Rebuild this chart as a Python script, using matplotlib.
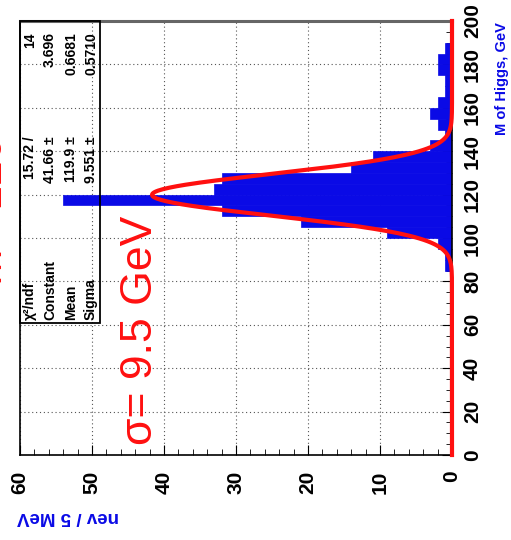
import numpy as np
import matplotlib
matplotlib.use('Agg')
import matplotlib.pyplot as plt
from matplotlib.patches import Rectangle

plt.rcParams['font.family'] = ['Liberation Sans', 'DejaVu Sans']

# ── data ────────────────────────────────────────────
mass_lo = [85, 90, 95, 100, 105, 110, 115, 120, 125, 130, 135,
           140, 145, 150, 155, 160, 165, 170, 175, 180, 185]
counts  = [1, 1, 2, 9, 21, 32, 54, 33, 32, 14, 11,
           3, 1, 2, 3, 2, 1, 1, 2, 2, 1]
bin_w   = 5

fit_const, fit_mean, fit_sigma = 41.66, 119.9, 9.551

stat_labels = ["χ²/ndf", "Constant", "Mean", "Sigma"]
stat_values = ["15.72 /", "41.66 ±", "119.9 ±", "9.551 ±"]
stat_errors = ["14", "3.696", "0.6681", "0.5710"]

nev_ticks  = [0, 10, 20, 30, 40, 50, 60]
mass_ticks = [0, 20, 40, 60, 80, 100, 120, 140, 160, 180, 200]

W, H = 511, 540
BLUE = '#0a0ae6'
RED  = '#ff1010'

def fx(x): return x / W
def fy(y): return 1 - y / H

fig = plt.figure(figsize=(W / 100, H / 100), dpi=100)
ax = fig.add_axes([fx(20), fy(455), (452 - 20) / W, (455 - 21) / H])

# histogram, drawn rotated (mass up, nev to the left)
ax.barh(mass_lo, counts, height=bin_w, align='edge', color=BLUE,
        edgecolor=BLUE, linewidth=0.5, zorder=2)

m = np.linspace(0, 200, 600)
g = fit_const * np.exp(-0.5 * ((m - fit_mean) / fit_sigma) ** 2)
ax.plot(g, m, color=RED, lw=3, zorder=3, clip_on=False)

ax.set_xlim(60, 0)
ax.set_ylim(0, 200)

ax.set_xticks(nev_ticks)
ax.set_xticks(np.arange(0, 61, 2), minor=True)
ax.set_yticks(mass_ticks)
ax.set_yticks(np.arange(0, 201, 5), minor=True)
ax.yaxis.tick_right()
ax.set_xticklabels([str(v) for v in nev_ticks], rotation=90,
                   fontsize=15, fontweight='bold')
ax.set_yticklabels([str(v) for v in mass_ticks], rotation=90,
                   fontsize=15, fontweight='bold', va='center')
ax.tick_params(axis='x', which='major', direction='in', length=7, pad=11)
ax.tick_params(axis='x', which='minor', direction='in', length=4)
ax.tick_params(axis='y', which='major', direction='in', length=7, pad=8)
ax.tick_params(axis='y', which='minor', direction='in', length=4)

ax.grid(True, which='major', color='#555555', linestyle=(0, (1, 2.5)),
        linewidth=0.8, zorder=1)
ax.set_axisbelow(True)

for s in ['left', 'bottom', 'right']:
    ax.spines[s].set_linewidth(1.2)
ax.spines['top'].set_color('#666666')
ax.spines['top'].set_linewidth(2.2)

# axis titles
fig.text(fx(502), fy(22), "M of Higgs, GeV", rotation=90, ha='center',
         va='top', color=BLUE, fontsize=10.5, fontweight='bold')
fig.text(fx(17), fy(516), "nev / 5 MeV", rotation=180, ha='left',
         va='center', color=BLUE, fontsize=13.5, fontweight='bold')

# stats box
fig.patches.append(Rectangle((fx(20), fy(323)), (100 - 20) / W,
                             (323 - 21) / H, transform=fig.transFigure,
                             facecolor='none', edgecolor='black', lw=1.3,
                             zorder=5))
rows_x = [30, 50, 71, 91]
for xr, lab, val, err in zip(rows_x, stat_labels, stat_values, stat_errors):
    fig.text(fx(xr), fy(320), lab, rotation=90, ha='center', va='bottom',
             fontsize=10, fontweight='bold', zorder=6)
    fig.text(fx(xr), fy(136), val, rotation=90, ha='center', va='top',
             fontsize=10, fontweight='bold', zorder=6)
    fig.text(fx(xr), fy(32), err, rotation=90, ha='center', va='top',
             fontsize=10, fontweight='bold', zorder=6)

# big red annotation
fig.text(fx(140), fy(330), "σ= 9.5 GeV", rotation=90, ha='center',
         va='center', color=RED, fontsize=32)
# second red annotation, mostly cut by the left edge (as in the source)
fig.text(fx(11), fy(210), "M= 120", rotation=90, ha='right',
         va='center', color=RED, fontsize=32)

fig.savefig("out.png", dpi=100)
